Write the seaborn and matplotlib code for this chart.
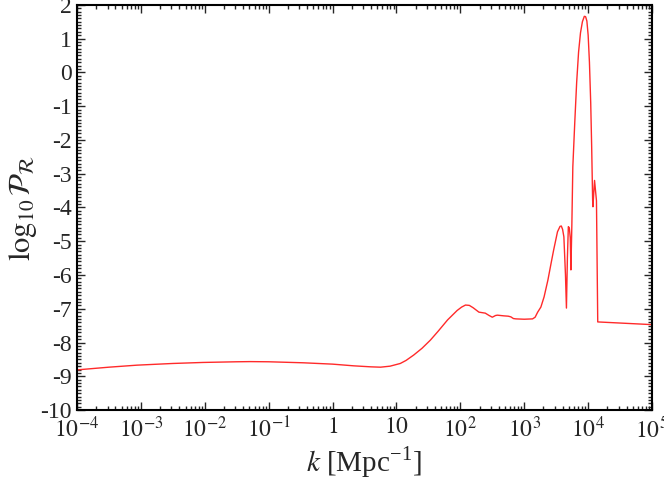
import numpy as np
import pandas as pd
import matplotlib
matplotlib.use('Agg')
import matplotlib.pyplot as plt
import matplotlib.ticker as mticker
import seaborn as sns

# log10(k) e log10(P_R)
log_k = [-4.0, -3.5, -3.06, -2.5, -2.03, -1.5, -1.29, -1.0, -0.46, 0.0, 0.33, 0.6,
         0.75, 0.9, 1.06, 1.15, 1.27, 1.40, 1.53, 1.65, 1.80, 1.95, 2.02, 2.08,
         2.14, 2.20, 2.29, 2.39, 2.45, 2.50, 2.55, 2.58, 2.68, 2.75, 2.79, 2.83,
         2.87, 3.0, 3.13, 3.17, 3.21, 3.26, 3.31, 3.37, 3.42, 3.46, 3.52, 3.56,
         3.58, 3.60, 3.62, 3.645, 3.66, 3.675, 3.69, 3.705, 3.72, 3.73, 3.745, 3.76,
         3.79, 3.82, 3.85, 3.88, 3.91, 3.94, 3.96, 3.98, 4.0, 4.02, 4.04, 4.055,
         4.07, 4.075, 4.09, 4.10, 4.12, 4.13, 4.15, 5.0]
log_P = [-8.81, -8.73, -8.67, -8.62, -8.59, -8.57, -8.565, -8.57, -8.60, -8.64, -8.69, -8.72,
         -8.73, -8.70, -8.62, -8.53, -8.37, -8.17, -7.93, -7.67, -7.33, -7.05, -6.95, -6.89,
         -6.90, -6.97, -7.10, -7.13, -7.20, -7.25, -7.20, -7.19, -7.21, -7.22, -7.24, -7.29,
         -7.30, -7.31, -7.30, -7.25, -7.10, -6.95, -6.65, -6.15, -5.65, -5.26, -4.72, -4.56,
         -4.55, -4.65, -4.87, -6.0, -6.98, -5.5, -4.57, -4.60, -4.90, -5.85, -4.5, -2.8,
         -1.5, -0.3, 0.6, 1.17, 1.5, 1.66, 1.65, 1.52, 1.1, 0.3, -0.9, -2.2,
         -3.78, -3.98, -3.5, -3.2, -3.6, -3.8, -7.39, -7.47]

x_ticks = [1e-4, 1e-3, 1e-2, 1e-1, 1, 10, 1e2, 1e3, 1e4, 1e5]
x_labels = ['$10^{-4}$', '$10^{-3}$', '$10^{-2}$', '$10^{-1}$', '$1$', '$10$',
            '$10^{2}$', '$10^{3}$', '$10^{4}$', '$10^{5}$']
y_ticks = list(range(-10, 3))

df = pd.DataFrame({'k': 10 ** np.array(log_k), 'P': log_P})

sns.set_style('ticks')
plt.rcParams['font.family'] = ['Liberation Serif', 'DejaVu Serif']
plt.rcParams['mathtext.fontset'] = 'stix'
plt.rcParams['axes.unicode_minus'] = False

fig = plt.figure(figsize=(6.64, 4.83), dpi=100)
ax = fig.add_axes([0.116, 0.151, 0.866, 0.839])
sns.lineplot(data=df, x='k', y='P', color='#ff2a2a', linewidth=1.0, ax=ax, sort=False)

ax.set_xscale('log')
ax.set_xlim(1e-4, 1e5)
ax.set_ylim(-10, 2)
ax.set_xticks(x_ticks)
ax.set_xticklabels(x_labels)
ax.xaxis.set_minor_locator(mticker.LogLocator(base=10, subs=np.arange(2, 10), numticks=20))
ax.xaxis.set_minor_formatter(mticker.NullFormatter())
ax.set_yticks(y_ticks)
ax.set_yticklabels([str(v) for v in y_ticks])
ax.yaxis.set_minor_locator(mticker.MultipleLocator(0.1))

ax.tick_params(which='both', direction='in', top=True, right=True, labelsize=17, width=1)
ax.tick_params(which='major', length=6)
ax.tick_params(which='minor', length=3)
ax.tick_params(axis='x', which='major', pad=5)
ax.tick_params(axis='y', which='major', pad=4)
for s in ax.spines.values():
    s.set_linewidth(1.5)
    s.set_color('black')

ax.set_xlabel(r'$k$ [Mpc$^{\mathregular{-1}}$]', fontsize=21, labelpad=2)
ax.set_ylabel(r'$\log_{10}\mathcal{P}_{\mathcal{R}}$', fontsize=22, labelpad=1)

fig.savefig('out.png', dpi=100)
